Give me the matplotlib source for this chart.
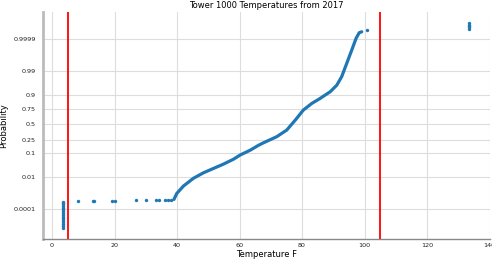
import numpy as np
import matplotlib
matplotlib.use("Agg")
import matplotlib.pyplot as plt
from statistics import NormalDist

# ---- data ----
# main body of the probability plot (temperature F, cumulative probability)
curve_temp = [39.0, 39.9, 42.0, 45.2, 48.4, 51.6, 54.8, 58.0, 60.2, 63.4, 66.0,
              67.6, 71.9, 75.1, 77.8, 80.4, 83.1, 85.8, 89.0, 91.1, 92.7, 94.3,
              95.9, 97.3, 98.3, 99.1]
curve_prob = [5.0e-4, 1.22e-3, 3.36e-3, 8.9e-3, 0.0166, 0.0262, 0.040, 0.062,
              0.0885, 0.127, 0.176, 0.206, 0.291, 0.397, 0.567, 0.729, 0.816,
              0.869, 0.921, 0.955, 0.981, 0.996, 0.99938, 0.99991, 0.999967,
              0.999972]

# stuck low readings (all at ~3.6 F)
low_temp = [3.6] * 16
low_prob = [2.7e-6, 4e-6, 6e-6, 9e-6, 1.3e-5, 1.9e-5, 2.7e-5, 3.8e-5, 5.3e-5,
            7.3e-5, 1.0e-4, 1.35e-4, 1.8e-4, 2.4e-4, 3.0e-4, 3.6e-4]

# isolated low readings
iso_temp = [8.4, 13.0, 13.3, 19.1, 20.2, 26.9, 30.1, 33.3, 34.3, 36.2, 37.2, 38.2]
iso_prob = [4.0e-4, 4.05e-4, 4.1e-4, 4.15e-4, 4.2e-4, 4.25e-4, 4.3e-4, 4.35e-4,
            4.4e-4, 4.45e-4, 4.5e-4, 4.55e-4]

# high outliers
high_temp = [100.7, 133.5, 133.5, 133.5, 133.5, 133.5]
high_prob = [0.999979, 0.999984, 0.999988, 0.999991, 0.999993, 0.999995]

# limit lines
limit_lines = [5, 105]

ytick_vals = [0.0001, 0.01, 0.1, 0.25, 0.5, 0.75, 0.9, 0.99, 0.9999]
ytick_labels = ["0.0001", "0.01", "0.1", "0.25", "0.5", "0.75", "0.9", "0.99", "0.9999"]
xtick_vals = [0, 20, 40, 60, 80, 100, 120, 140]

# ---- probit scale ----
_nd = NormalDist()
_ppf = np.vectorize(lambda p: _nd.inv_cdf(min(max(float(p), 1e-15), 1 - 1e-15)))
_cdf = np.vectorize(lambda z: _nd.cdf(float(z)))


def forward(p):
    p = np.asarray(p, dtype=float)
    if p.size == 0:
        return p
    return _ppf(p)


def inverse(z):
    z = np.asarray(z, dtype=float)
    if z.size == 0:
        return z
    return _cdf(z)


fig = plt.figure(figsize=(4.92, 2.65), dpi=100)
ax = fig.add_axes([43 / 492, 1 - 239.3 / 265, 446.7 / 492, (239.3 - 12.3) / 265])
ax.set_yscale("function", functions=(forward, inverse))

blue = "#1f77b4"
ax.plot(curve_temp, curve_prob, color=blue, lw=2.3, solid_capstyle="round",
        solid_joinstyle="round", zorder=3)
ax.scatter(low_temp, low_prob, s=6, color=blue, zorder=3, linewidths=0)
ax.scatter(iso_temp, iso_prob, s=6, color=blue, zorder=3, linewidths=0)
ax.scatter(high_temp, high_prob, s=6, color=blue, zorder=3, linewidths=0)

for xv in limit_lines:
    ax.axvline(xv, color="red", lw=1.3, zorder=2)

ax.set_xlim(-2.9, 140.05)
ax.set_ylim(inverse(-5.03), inverse(4.88))
ax.set_xticks(xtick_vals)
ax.set_yticks(ytick_vals)
ax.set_yticklabels(ytick_labels)
ax.yaxis.set_minor_locator(matplotlib.ticker.NullLocator())
ax.xaxis.set_minor_locator(matplotlib.ticker.NullLocator())

ax.grid(True, color="#dddddd", lw=0.8, zorder=0)
ax.set_axisbelow(True)
ax.tick_params(axis="both", length=0, labelsize=4.6, colors="#222222")
ax.tick_params(axis="y", pad=5)
ax.tick_params(axis="x", pad=3)

for s in ["top", "right"]:
    ax.spines[s].set_visible(False)
ax.spines["left"].set_color("#bbbbbb")
ax.spines["left"].set_linewidth(2)
ax.spines["bottom"].set_color("#888888")
ax.spines["bottom"].set_linewidth(1)

ax.set_title("Tower 1000 Temperatures from 2017", fontsize=6, pad=3)
ax.set_xlabel("Temperature F", fontsize=6, labelpad=1)
ax.set_ylabel("Probability", fontsize=6, labelpad=4)

fig.savefig("out.png", dpi=100, facecolor="white")
